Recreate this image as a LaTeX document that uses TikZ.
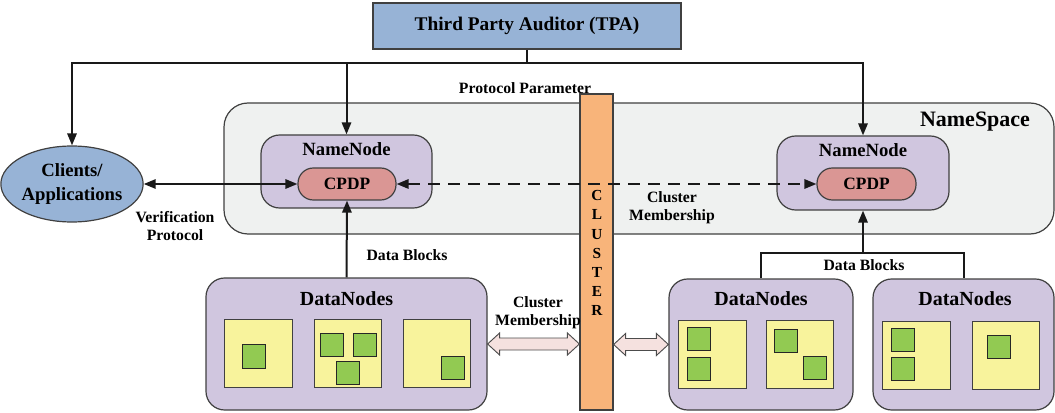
\documentclass[tikz,border=0pt]{standalone}
\usepackage{fontspec}
\setmainfont{Liberation Serif}
\usetikzlibrary{arrows.meta,calc,fit,shapes.geometric}
\definecolor{tpablue}{HTML}{97B3D6}
\definecolor{nsgray}{HTML}{EFF1F0}
\definecolor{lav}{HTML}{D0C6DF}
\definecolor{cpdpred}{HTML}{DA9694}
\definecolor{yel}{HTML}{F8F39C}
\definecolor{grn}{HTML}{92CA52}
\definecolor{barorange}{HTML}{F8B47A}
\definecolor{fatpink}{HTML}{F5E1DF}
\newcommand{\fatarrow}[2]{%
  \filldraw[fatarr] (#1) -- ($(#1)+(12,-11)$) -- ($(#1)+(12,-6)$) -- ($(#2)+(-12,-6)$) -- ($(#2)+(-12,-11)$) -- (#2)
   -- ($(#2)+(-12,11)$) -- ($(#2)+(-12,6)$) -- ($(#1)+(12,6)$) -- ($(#1)+(12,11)$) -- cycle;}
\begin{document}
\begin{tikzpicture}[x=0.75pt,y=-0.75pt,
  box/.style={draw=black!75, line width=0.9pt, inner sep=0pt},
  tpabox/.style={box, fill=tpablue},
  nsbox/.style={box, fill=nsgray, rounded corners=18pt},
  nnbox/.style={box, fill=lav, rounded corners=14pt},
  cpdpbox/.style={box, fill=cpdpred, rounded corners=11.5pt},
  barbox/.style={box, fill=barorange},
  yelsq/.style={draw=black!75, line width=0.7pt, fill=yel},
  grnsq/.style={draw=black!85, line width=0.7pt, fill=grn},
  fatarr/.style={draw=black!70, line width=0.7pt, fill=fatpink},
  conn/.style={line width=1.5pt, draw=black!90},
  arr/.style={conn, -{Triangle[length=9pt,width=7pt]}},
  darr/.style={conn, {Triangle[length=9pt,width=7pt]}-{Triangle[length=9pt,width=7pt]}},
  lbl/.style={font=\bfseries\fontsize{11.8}{13.8}\selectfont, align=center, inner sep=0pt},
  title/.style={font=\bfseries\fontsize{14}{16}\selectfont, inner sep=0pt},
  cpdptxt/.style={font=\bfseries\fontsize{13}{15}\selectfont, inner sep=0pt},
  dntitle/.style={font=\bfseries\fontsize{15}{17}\selectfont, inner sep=0pt}
]
\useasboundingbox (0,0) rectangle (1055,413);

% TPA
\node[tpabox, fit={(373,3)(681,49)}] (tpa) {};
\node[font=\bfseries\fontsize{14.5}{17}\selectfont, inner sep=0pt] (tpat) at (tpa.center) {Third Party Auditor (TPA)};

% NameSpace
\node[nsbox, fit={(224,103)(1054,234)}] (ns) {};
\node[font=\bfseries\fontsize{16.5}{19}\selectfont, inner sep=0pt] (nstitle) at (975,122) {NameSpace};

% NameNodes
\node[nnbox, fit={(261,135)(432,208)}] (nnL) {};
\node[title] (nnLt) at (346.5,149) {NameNode};
\node[cpdpbox, fit={(298,168)(396,200)}] (cpdpL) {};
\node[cpdptxt] (cpdpLt) at (cpdpL.center) {CPDP};
\node[nnbox, fit={(777,136)(949,210)}] (nnR) {};
\node[title] (nnRt) at (863,150) {NameNode};
\node[cpdpbox, fit={(817,168)(916,200)}] (cpdpR) {};
\node[cpdptxt] (cpdpRt) at (cpdpR.center) {CPDP};

% Clients
\node[ellipse, box, fill=tpablue, minimum width=95.5pt, minimum height=57pt, align=center,
      font=\bfseries\fontsize{14}{18}\selectfont] (cl) at (72,184) {Clients/\\Applications};

% Cluster bar
\node[barbox, fit={(580,94)(613,410)}] (bar) {};
\node[font=\bfseries\fontsize{11.5}{14.3}\selectfont, align=center, inner sep=0pt] (bart) at (597,253) {C\\L\\U\\S\\T\\E\\R};

% DataNodes
\node[nnbox, fit={(206,278)(487,410)}] (dnL) {};
\node[dntitle] (dnLt) at (346.5,299) {DataNodes};
\node[nnbox, fit={(669,279)(853,410)}] (dnR1) {};
\node[dntitle] (dnR1t) at (761,299) {DataNodes};
\node[nnbox, fit={(873,279)(1054,410)}] (dnR2) {};
\node[dntitle] (dnR2t) at (965,299) {DataNodes};

% yellow blocks
\draw[yelsq] (224,319) rectangle (292,387);
\draw[yelsq] (314,319) rectangle (381,387);
\draw[yelsq] (403,319) rectangle (470,387);
\draw[yelsq] (678,320) rectangle (746,388);
\draw[yelsq] (766,320) rectangle (833,388);
\draw[yelsq] (882,321) rectangle (950,389);
\draw[yelsq] (972,321) rectangle (1039,389);
% green blocks
\draw[grnsq] (242,344) rectangle (265,368);
\draw[grnsq] (320,333) rectangle (343,356);
\draw[grnsq] (353,333) rectangle (376,356);
\draw[grnsq] (336,361) rectangle (359,384);
\draw[grnsq] (441,356) rectangle (464,379);
\draw[grnsq] (687,327) rectangle (710,350);
\draw[grnsq] (687,357) rectangle (710,380);
\draw[grnsq] (774,329) rectangle (797,352);
\draw[grnsq] (803,356) rectangle (826,379);
\draw[grnsq] (891,328) rectangle (914,351);
\draw[grnsq] (891,357) rectangle (914,380);
\draw[grnsq] (987,335) rectangle (1010,358);

% TPA connectors
\coordinate (junc) at ($(tpa.south)+(0,13)$);
\draw[conn] (tpa.south) -- (junc);
\draw[arr] (junc) -| (cl.north);
\draw[arr] (junc) -| (nnL.north);
\draw[arr] (junc) -| (nnR.north);
\node[lbl] (pp) at (525,88) {Protocol Parameter};

% client <-> CPDP
\draw[darr] (cl.east) -- (cpdpL.west);
\node[lbl] (vp) at (175,226) {Verification\\Protocol};

% dashed CPDP <-> CPDP
\draw[darr, dash pattern=on 9pt off 6pt] (cpdpL.east) -- (cpdpR.west);
\node[lbl] (cm1) at (672,207.5) {Cluster\\Membership};

% Data blocks left
\draw[arr] (dnL.north) -- (cpdpL.south);
\node[lbl] (db1) at (407,255) {Data Blocks};

% Data blocks right
\coordinate (dbj) at (863,253);
\draw[conn] (dnR1.north) |- (dbj) -| (dnR2.north);
\draw[arr] (dbj) -- (nnR.south);
\node[lbl] (db2) at (864,265) {Data Blocks};

% fat arrows
\coordinate (fa1a) at (dnL.east);
\coordinate (fa1b) at (dnL.east -| bar.west);
\fatarrow{fa1a}{fa1b}
\coordinate (fa2a) at (bar.east |- dnR1.west);
\coordinate (fa2b) at (dnR1.west);
\fatarrow{fa2a}{fa2b}
\node[lbl] (cm2) at (538,313) {Cluster\\Membership};
\end{tikzpicture}
\end{document}
